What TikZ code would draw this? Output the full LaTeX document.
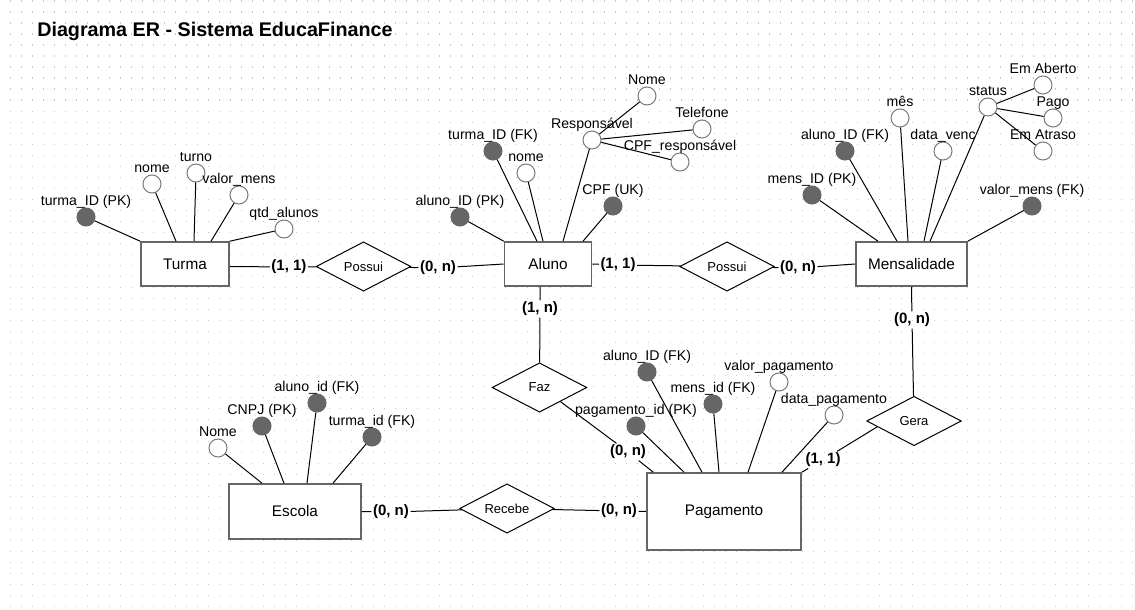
\documentclass[tikz,border=0pt]{standalone}
\usepackage{fontspec}
\setmainfont{Liberation Sans}
\usetikzlibrary{shapes.geometric,calc}

\definecolor{entgray}{HTML}{666666}
\definecolor{attrgray}{HTML}{7A7A7A}
\definecolor{dotgray}{HTML}{C8C8C8}

\begin{document}
\begin{tikzpicture}[x=0.75pt, y=-0.75pt,
  entity/.style={draw=entgray, line width=1.2pt, fill=white, inner sep=0pt,
                 font=\fontsize{11.5}{13}\selectfont},
  rel/.style={draw, diamond, aspect=1.94, inner sep=0pt, fill=white,
              minimum width=71pt, minimum height=37pt, line width=0.75pt,
              font=\fontsize{9.75}{11}\selectfont},
  attr/.style={circle, draw=attrgray, fill=white, minimum size=13.5pt,
               inner sep=0pt, line width=0.75pt},
  key/.style={attr, draw=entgray, fill=entgray},
  lbl/.style={font=\fontsize{10.6}{12}\selectfont, anchor=base, inner sep=0pt},
  card/.style={font=\bfseries\fontsize{11.25}{13}\selectfont, inner sep=1pt},
  conn/.style={draw=black, line width=0.75pt},
  label distance=1.5pt
]
\useasboundingbox (0,0) rectangle (1135,610);
\fill[white] (0,0) rectangle (1135,610);
% dotted page grid
\foreach \i in {0,...,102}
  \foreach \j in {0,...,55}
    \fill[dotgray] (9.5+11*\i,0.5+11*\j) rectangle ++(1.3,1.3);

\node[anchor=base west, inner sep=0pt, font=\bfseries\fontsize{14.8}{17}\selectfont]
  (title) at (37,37) {Diagrama ER - Sistema EducaFinance};

% entities
\node[entity, minimum width=66pt, minimum height=33pt] (turma) at (185,264) {Turma};
\node[entity, minimum width=65.25pt, minimum height=33pt] (aluno) at (548,264) {Aluno};
\node[entity, minimum width=83.25pt, minimum height=33pt] (mensal) at (911.5,264) {Mensalidade};
\node[entity, minimum width=99pt, minimum height=41.25pt] (escola) at (295,511.5) {Escola};
\node[entity, minimum width=115.5pt, minimum height=57.75pt] (pagto) at (724,511.5) {Pagamento};

% relationships
\node[rel] (possui1) at (363.5,266.5) {Possui};
\node[rel] (possui2) at (727,266.5) {Possui};
\node[rel] (faz) at (539.5,387.5) {Faz};
\node[rel] (recebe) at (507,508.5) {Recebe};
\node[rel] (gera) at (914,421) {Gera};

% Turma attributes
\node[key, label={[lbl]above:turma\_ID (PK)}] (t_id) at (86,217) {};
\node[attr, label={[lbl]above:nome}] (t_nome) at (152,184) {};
\node[attr, label={[lbl]above:turno}] (t_turno) at (196,173) {};
\node[attr, label={[lbl]above:valor\_mens}] (t_valor) at (239,195) {};
\node[attr, label={[lbl]above:qtd\_alunos}] (t_qtd) at (284,229) {};

% Aluno attributes
\node[key, label={[lbl]above:aluno\_ID (PK)}] (a_id) at (460,217) {};
\node[key, label={[lbl]above:turma\_ID (FK)}] (a_turma) at (493,151) {};
\node[attr, label={[lbl]above:nome}] (a_nome) at (526,173) {};
\node[attr, label={[lbl]above:Responsável}] (a_resp) at (592,140) {};
\node[key, label={[lbl]above:CPF (UK)}] (a_cpf) at (613,206) {};
\node[attr, label={[lbl]above:Nome}] (r_nome) at (647,96) {};
\node[attr, label={[lbl]above:Telefone}] (r_tel) at (702,129) {};
\node[attr, label={[lbl]above:CPF\_responsável}] (r_cpf) at (680,162) {};

% Mensalidade attributes
\node[key, label={[lbl]above:mens\_ID (PK)}] (m_id) at (812,195) {};
\node[key, label={[lbl]above:aluno\_ID (FK)}] (m_aluno) at (845,151) {};
\node[attr, label={[lbl]above:mês}] (m_mes) at (900,118) {};
\node[attr, label={[lbl]above:data\_venc}] (m_venc) at (943,151) {};
\node[attr, label={[lbl]above:status}] (m_status) at (988,107) {};
\node[attr, label={[lbl]above:Em Aberto}] (s_aberto) at (1043,85) {};
\node[attr, label={[lbl]above:Pago}] (s_pago) at (1053,118) {};
\node[attr, label={[lbl]above:Em Atraso}] (s_atraso) at (1043,151) {};
\node[key, label={[lbl]above:valor\_mens (FK)}] (m_valor) at (1032,206) {};

% Escola attributes
\node[attr, label={[lbl]above:Nome}] (e_nome) at (218,448) {};
\node[key, label={[lbl]above:CNPJ (PK)}] (e_cnpj) at (262,426) {};
\node[key, label={[lbl]above:aluno\_id (FK)}] (e_aluno) at (317,403) {};
\node[key, label={[lbl]above:turma\_id (FK)}] (e_turma) at (372,437) {};

% Pagamento attributes
\node[key, label={[lbl]above:aluno\_ID (FK)}] (p_aluno) at (647,372) {};
\node[key, label={[lbl]above:pagamento\_id (PK)}] (p_id) at (636,426) {};
\node[key, label={[lbl]above:mens\_id (FK)}] (p_mens) at (713,404) {};
\node[attr, label={[lbl]above:valor\_pagamento}] (p_valor) at (779,382) {};
\node[attr, label={[lbl]above:data\_pagamento}] (p_data) at (834,415) {};

% cardinalities
\node[card] (c1) at (289,267) {(1, 1)};
\node[card] (c2) at (438,268) {(0, n)};
\node[card] (c3) at (618,265) {(1, 1)};
\node[card] (c4) at (798,268) {(0, n)};
\node[card] (c5) at (540,309) {(1, n)};
\node[card] (c6) at (628,452) {(0, n)};
\node[card] (c7) at (912,320) {(0, n)};
\node[card] (c8) at (823,460) {(1, 1)};
\node[card] (c9) at (391,512) {(0, n)};
\node[card] (c10) at (619,511) {(0, n)};

% attribute links
\draw[conn] (t_id) -- (turma.north west);
\draw[conn] (t_nome) -- ($(turma.north)+(-9,0)$);
\draw[conn] (t_turno) -- ($(turma.north)+(9,0)$);
\draw[conn] (t_valor) -- ($(turma.north)+(26,0)$);
\draw[conn] (t_qtd) -- (turma.north east);

\draw[conn] (a_id) -- (aluno.north west);
\draw[conn] (a_turma) -- ($(aluno.north)+(-11,0)$);
\draw[conn] (a_nome) -- ($(aluno.north)+(-5,0)$);
\draw[conn] (a_resp) -- ($(aluno.north)+(15,0)$);
\draw[conn] (a_cpf) -- ($(aluno.north)+(35,0)$);
\draw[conn] (a_resp) -- (r_nome);
\draw[conn] (a_resp) -- (r_tel);
\draw[conn] (a_resp) -- (r_cpf);

\draw[conn] (m_id) -- ($(mensal.north)+(-33.5,0)$);
\draw[conn] (m_aluno) -- ($(mensal.north)+(-14.5,0)$);
\draw[conn] (m_mes) -- ($(mensal.north)+(-3.5,0)$);
\draw[conn] (m_venc) -- ($(mensal.north)+(12.5,0)$);
\draw[conn] (m_status) -- ($(mensal.north)+(18.5,0)$);
\draw[conn] (m_status) -- (s_aberto);
\draw[conn] (m_status) -- (s_pago);
\draw[conn] (m_status) -- (s_atraso);
\draw[conn] (m_valor) -- (mensal.north east);

\draw[conn] (e_nome) -- ($(escola.north)+(-33,0)$);
\draw[conn] (e_cnpj) -- ($(escola.north)+(-11,0)$);
\draw[conn] (e_aluno) -- ($(escola.north)+(12,0)$);
\draw[conn] (e_turma) -- ($(escola.north)+(38,0)$);

\draw[conn] (p_id) -- ($(pagto.north)+(-40,0)$);
\draw[conn] (p_aluno) -- ($(pagto.north)+(-22,0)$);
\draw[conn] (p_mens) -- ($(pagto.north)+(-5,0)$);
\draw[conn] (p_valor) -- ($(pagto.north)+(24,0)$);
\draw[conn] (p_data) -- ($(pagto.north)+(58,0)$);

% relationship links
\draw[conn] (turma.east |- possui1) -- (c1) -- (possui1);
\draw[conn] (possui1) -- (c2) -- (aluno.west);
\draw[conn] (aluno.east) -- (c3) -- (possui2);
\draw[conn] (possui2) -- (c4) -- (mensal.west);
\draw[conn] ($(aluno.south)+(-8,0)$) -- (c5) -- (faz);
\draw[conn] (faz.-34) -- (c6) -- ($(pagto.north west)+(7,0)$);
\draw[conn] (mensal.south) -- (c7) -- (gera);
\draw[conn] (gera.189) -- (c8) -- (pagto.north east);
\draw[conn] (escola.east) -- (c9) -- (recebe);
\draw[conn] (recebe) -- (c10) -- (pagto.west);
\end{tikzpicture}
\end{document}
